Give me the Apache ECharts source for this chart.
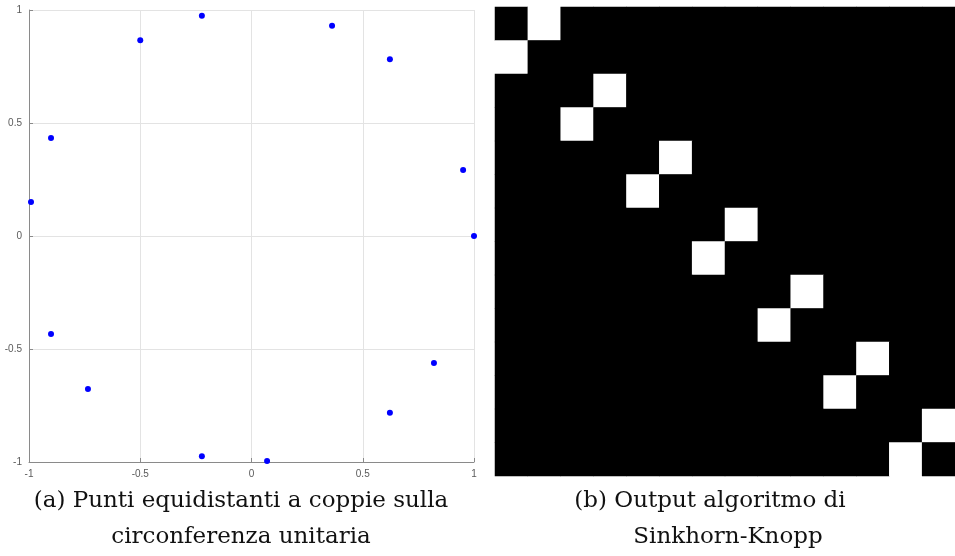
<!DOCTYPE html>
<html>
<head>
<meta charset="utf-8">
<script src="https://cdn.jsdelivr.net/npm/echarts@6/dist/echarts.min.js"></script>
<style>
    html, body { margin: 0; padding: 0; background: #fff; }
    #main { width: 955px; height: 556px; }
</style>
</head>
<body>
<div id="main"></div>
<script>
    // punti sul cerchio unitario
    var pointsX = [-0.223, -0.500, 0.362, 0.622, -0.901, 0.951, -0.991, 1.000, -0.901, 0.820, -0.735, 0.622, -0.223, 0.070];
    var pointsY = [0.975, 0.866, 0.930, 0.782, 0.434, 0.292, 0.150, 0.000, -0.434, -0.562, -0.677, -0.782, -0.975, -0.996];
    var axisTicks = [-1, -0.5, 0, 0.5, 1];

    // matrice di permutazione: colonna bianca per ogni riga
    var matrixSize = 14;
    var whiteCol = [1, 0, 3, 2, 5, 4, 7, 6, 9, 8, 11, 10, 13, 12];

    var captionA = ['(a) Punti equidistanti a coppie sulla', 'circonferenza unitaria'];
    var captionB = ['(b) Output algoritmo di', 'Sinkhorn-Knopp'];

    var scatterData = [];
    for (var i = 0; i < pointsX.length; i++) {
        scatterData.push([pointsX[i], pointsY[i]]);
    }

    var cats = [];
    for (i = 0; i < matrixSize; i++) cats.push(String(i + 1));
    var heatData = [];
    for (var r = 0; r < matrixSize; r++) {
        for (var c = 0; c < matrixSize; c++) {
            heatData.push([c, r, whiteCol[r] === c ? 1 : 0]);
        }
    }

    var valueAxis = {
        type: 'value',
        min: axisTicks[0],
        max: axisTicks[axisTicks.length - 1],
        interval: 0.5,
        axisLine: { show: true, onZero: false, lineStyle: { color: '#8a8a8a', width: 1 } },
        axisTick: { show: true, inside: true, length: 4, lineStyle: { color: '#8a8a8a' } },
        axisLabel: { color: '#5a5a5a', fontSize: 10, fontFamily: 'Liberation Sans', margin: 7 },
        splitLine: { show: true, lineStyle: { color: '#e3e3e3', width: 1 } }
    };

    var chart = echarts.init(document.getElementById('main'));
    var option = {
        animation: false,
        backgroundColor: '#fff',
        grid: [
            { left: 29, top: 10, width: 445, height: 452 },
            // sfondo nero per coprire le fessure tra le celle
            { left: 495, top: 7, width: 469, height: 469, show: true, backgroundColor: '#000', borderWidth: 0 }
        ],
        xAxis: [
            Object.assign({ gridIndex: 0 }, valueAxis),
            { type: 'category', gridIndex: 1, data: cats, show: false }
        ],
        yAxis: [
            Object.assign({ gridIndex: 0 }, valueAxis),
            { type: 'category', gridIndex: 1, data: cats, show: false, inverse: true }
        ],
        visualMap: {
            show: false,
            type: 'continuous',
            min: 0,
            max: 1,
            seriesIndex: 1,
            inRange: { color: ['#000000', '#ffffff'] }
        },
        series: [
            {
                type: 'scatter',
                xAxisIndex: 0,
                yAxisIndex: 0,
                symbolSize: 6,
                itemStyle: { color: '#0000ff', opacity: 1 },
                data: scatterData
            },
            {
                type: 'heatmap',
                xAxisIndex: 1,
                yAxisIndex: 1,
                itemStyle: { borderWidth: 0 },
                data: heatData
            }
        ]
    };

    // didascalie
    var capStyle = { fill: '#111', font: '23px "DejaVu Serif", serif', textAlign: 'center', textVerticalAlign: 'middle' };
    option.graphic = [
        { type: 'text', x: 241, y: 501, style: Object.assign({ text: captionA[0] }, capStyle) },
        { type: 'text', x: 241, y: 537, style: Object.assign({ text: captionA[1] }, capStyle) },
        { type: 'text', x: 710, y: 501, style: Object.assign({ text: captionB[0] }, capStyle) },
        { type: 'text', x: 728, y: 537, style: Object.assign({ text: captionB[1] }, capStyle) }
    ];

    chart.setOption(option);
</script>
</body>
</html>
